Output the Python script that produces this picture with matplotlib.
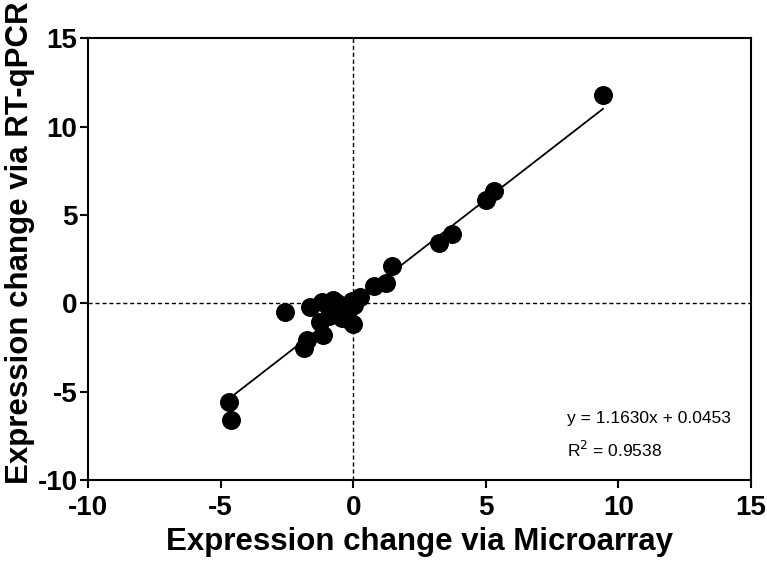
import numpy as np
import matplotlib
matplotlib.use("Agg")
import matplotlib.pyplot as plt

plt.rcParams['font.family'] = ['Liberation Sans', 'DejaVu Sans']
plt.rcParams['axes.unicode_minus'] = False

# fold change: microarray vs RT-qPCR
microarray = [9.42, 5.33, 5.02, 3.72, 3.25, 1.46, 1.25, 0.79, 0.26,
              -0.05, -0.15, -0.3, -0.45, -0.6, -0.75, -0.9, -0.25, 0.05,
              -1.18, -1.62, -2.57, -1.25, -1.14, -1.75, -1.87, 0.0, -0.43,
              -4.7, -4.62]
qpcr = [11.76, 6.33, 5.86, 3.94, 3.43, 2.09, 1.15, 0.96, 0.36,
        0.1, -0.3, -0.5, -0.2, 0.0, 0.17, -0.7, -0.9, -0.1,
        0.07, -0.23, -0.49, -1.06, -1.81, -2.1, -2.55, -1.15, -0.85,
        -5.58, -6.62]

slope, intercept = 1.1630, 0.0453
r2 = 0.9538

fig = plt.figure(figsize=(7.67, 5.62), dpi=100)
ax = fig.add_axes([0.1147, 0.146, 0.8643, 0.786])

ax.axhline(0, color='black', lw=1, ls=(0, (3, 2)), zorder=1)
ax.axvline(0, color='black', lw=1, ls=(0, (3, 2)), zorder=1)

xs = np.array([min(microarray), max(microarray)])
ax.plot(xs, slope * xs + intercept, color='black', lw=1.3, zorder=2)
ax.scatter(microarray, qpcr, s=160, color='black', zorder=3)

ax.set_xlim(-10, 15)
ax.set_ylim(-10, 15)
ax.set_xticks([-10, -5, 0, 5, 10, 15])
ax.set_yticks([-10, -5, 0, 5, 10, 15])
ax.tick_params(direction='out', length=6, width=1.5, labelsize=20)
ax.tick_params(axis='y', pad=1.5)
ax.tick_params(axis='x', pad=5)
for lab in ax.get_xticklabels() + ax.get_yticklabels():
    lab.set_fontweight('bold')
for sp in ax.spines.values():
    sp.set_linewidth(1.5)

ax.set_xlabel('Expression change via Microarray', fontsize=22.5, fontweight='bold', labelpad=4)
ax.set_ylabel('Expression change via RT-qPCR', fontsize=22.5, fontweight='bold')
ax.yaxis.set_label_coords(-0.08, 0.538)

ax.text(0.722, 0.138, 'y = 1.1630x + 0.0453', transform=ax.transAxes,
        fontsize=12.5, va='center')
ax.text(0.722, 0.068, r'R$^{2}$ = 0.9538', transform=ax.transAxes,
        fontsize=12.5, va='center')

plt.savefig('out.png', dpi=100)
